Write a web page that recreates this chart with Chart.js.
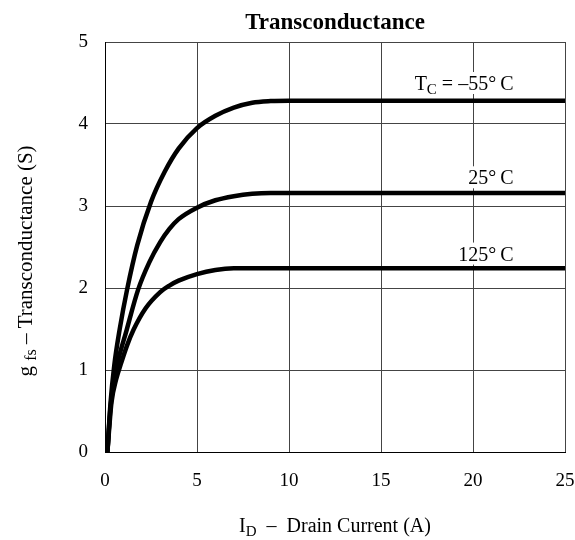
<!DOCTYPE html>
<html>
<head>
<meta charset="utf-8">
<script src="https://cdn.jsdelivr.net/npm/chart.js@4.4.1/dist/chart.umd.min.js"></script>
<style>
  html, body { margin: 0; padding: 0; background: #fff; }
  #wrap { width: 575px; height: 540px; position: relative; }
</style>
</head>
<body>
<div id="wrap"><canvas id="chart"></canvas></div>
<script>
// Transconductance vs drain current
const xTicks = [0, 5, 10, 15, 20, 25];
const yTicks = [0, 1, 2, 3, 4, 5];

const curveNames = ['TC = -55°C', '25°C', '125°C'];
const idM55 = [0.13, 0.3, 0.5, 0.8, 1.2, 1.75, 2.5, 3.25, 4.0, 5.0, 6.0, 7.0, 8.0, 9.0, 10.0, 25];
const gfsM55 = [0, 0.6, 1.05, 1.5, 1.98, 2.52, 3.05, 3.42, 3.7, 3.95, 4.1, 4.2, 4.26, 4.28, 4.285, 4.285];
const id25 = [0.13, 0.3, 0.6, 1.18, 1.8, 2.4, 3.0, 3.5, 4.0, 5.0, 6.0, 7.0, 8.0, 9.0, 25];
const gfs25 = [0, 0.55, 1.0, 1.49, 1.98, 2.31, 2.56, 2.72, 2.84, 2.98, 3.07, 3.12, 3.15, 3.16, 3.16];
const id125 = [0.13, 0.35, 0.6, 0.9, 1.2, 1.55, 2.2, 3.0, 3.5, 4.0, 5.0, 6.0, 7.0, 25];
const gfs125 = [0, 0.6, 0.88, 1.1, 1.3, 1.49, 1.75, 1.95, 2.03, 2.09, 2.17, 2.22, 2.24, 2.24];

// where the curve labels sit (data coords: right edge x, middle y)
const labelPos = [[22.2, 4.5], [22.2, 3.35], [22.2, 2.42]];

const pts = (xs, ys) => xs.map((x, i) => ({ x: x, y: ys[i] }));
const serif = '"Liberation Serif", "DejaVu Serif", serif';

// draw text with a subscript part, returns width
function subText(ctx, parts, x, y, size, measureOnly) {
    let w = 0;
    parts.forEach(p => {
        const s = p.sub ? Math.round(size * 0.75) : size;
        ctx.font = s + 'px ' + serif;
        if (!measureOnly) ctx.fillText(p.t, x + w, y + (p.sub ? size * 0.2 : 0));
        w += ctx.measureText(p.t).width;
    });
    return w;
}

const annotate = {
    id: 'annotate',
    afterDraw(chart) {
        const ctx = chart.ctx;
        const xs = chart.scales.x, ys = chart.scales.y;
        const area = chart.chartArea;
        ctx.save();
        ctx.fillStyle = '#000';
        ctx.textBaseline = 'alphabetic';
        ctx.textAlign = 'left';

        // title
        ctx.font = 'bold 23px ' + serif;
        ctx.textAlign = 'center';
        ctx.fillText('Transconductance', (area.left + area.right) / 2, 29);
        ctx.textAlign = 'left';

        // x axis title
        const xt = [{ t: 'I' }, { t: 'D', sub: true }, { t: '  \u2013  Drain Current (A)' }];
        let w = subText(ctx, xt, 0, 0, 20, true);
        subText(ctx, xt, (area.left + area.right) / 2 - w / 2, 532, 20);

        // y axis title, rotated
        const yt = [{ t: 'g ' }, { t: 'fs', sub: true }, { t: ' \u2013 Transconductance (S)' }];
        ctx.save();
        ctx.translate(32, 261);
        ctx.rotate(-Math.PI / 2);
        w = subText(ctx, yt, 0, 0, 21, true);
        subText(ctx, yt, -w / 2, 0, 21);
        ctx.restore();

        // curve labels on white boxes
        const labels = [
            [{ t: 'T' }, { t: 'C', sub: true }, { t: ' = \u201355\u00b0\u2009C' }],
            [{ t: '25\u00b0\u2009C' }],
            [{ t: '125\u00b0\u2009C' }]
        ];
        labels.forEach((lab, i) => {
            const rx = xs.getPixelForValue(labelPos[i][0]);
            const cy = ys.getPixelForValue(labelPos[i][1]);
            const lw = subText(ctx, lab, 0, 0, 20, true);
            ctx.fillStyle = '#fff';
            ctx.fillRect(rx - lw - 2, cy - 11, lw + 4, 22);
            ctx.fillStyle = '#000';
            subText(ctx, lab, rx - lw, cy + 7, 20);
        });
        ctx.restore();
    }
};

const lineStyle = {
    borderColor: '#000',
    borderWidth: 4.5,
    pointRadius: 0,
    fill: false,
    cubicInterpolationMode: 'monotone'
};

new Chart(document.getElementById('chart'), {
    type: 'line',
    data: {
        datasets: [
            Object.assign({ label: curveNames[0], data: pts(idM55, gfsM55) }, lineStyle),
            Object.assign({ label: curveNames[1], data: pts(id25, gfs25) }, lineStyle),
            Object.assign({ label: curveNames[2], data: pts(id125, gfs125) }, lineStyle)
        ]
    },
    options: {
        responsive: true,
        maintainAspectRatio: false,
        animation: false,
        layout: { padding: { left: 0, right: 10, top: 42, bottom: 0 } },
        plugins: { legend: { display: false }, tooltip: { enabled: false } },
        scales: {
            x: {
                type: 'linear',
                min: 0, max: 25,
                afterBuildTicks: s => { s.ticks = xTicks.map(v => ({ value: v })); },
                afterFit: s => { s.height = 88; s.paddingLeft = 0; s.paddingRight = 0; },
                grid: { color: '#444', lineWidth: 1, drawTicks: false },
                border: { color: '#000', width: 1 },
                ticks: { color: '#000', font: { family: serif, size: 19 }, padding: 18, maxRotation: 0 }
            },
            y: {
                min: 0, max: 5,
                afterBuildTicks: s => { s.ticks = yTicks.map(v => ({ value: v })); },
                afterFit: s => { s.width = 105; },
                grid: { color: '#444', lineWidth: 1, drawTicks: false },
                border: { color: '#000', width: 1 },
                ticks: { color: '#000', font: { family: serif, size: 19 }, padding: 17 }
            }
        }
    },
    plugins: [annotate]
});
</script>
</body>
</html>
